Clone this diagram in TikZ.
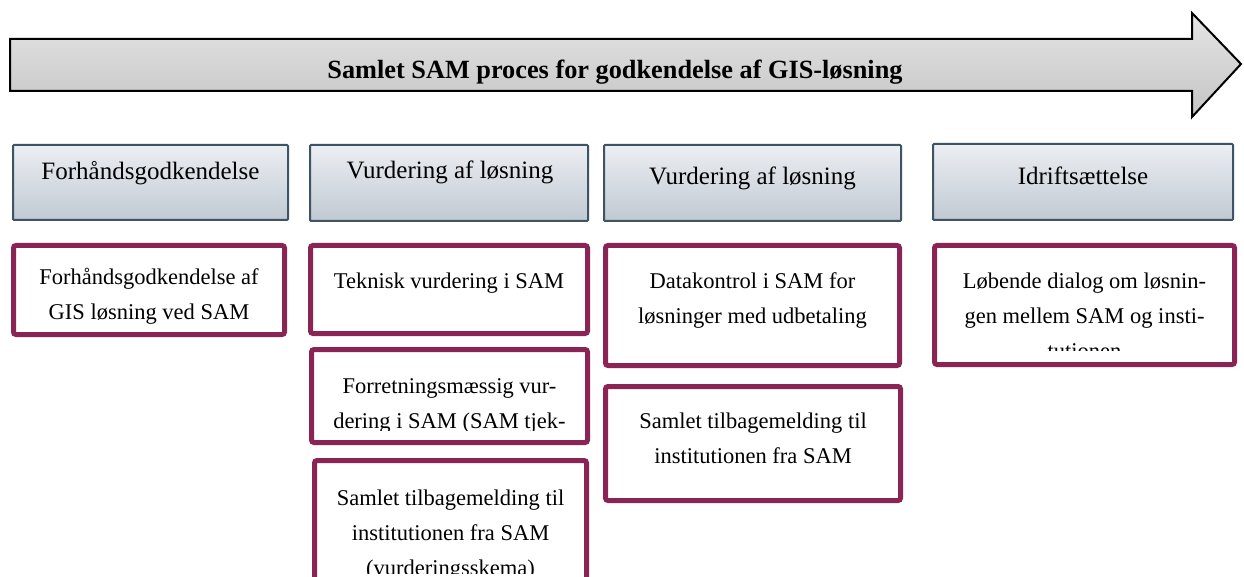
\documentclass[tikz,border=0pt]{standalone}
\usepackage{fontspec}
\setmainfont{Liberation Serif}
\definecolor{boxpurple}{RGB}{137,36,84}
\definecolor{hdrborder}{RGB}{62,84,100}
\definecolor{hdrtop}{RGB}{236,239,243}
\definecolor{hdrbot}{RGB}{192,201,210}
\definecolor{arrtop}{RGB}{229,229,229}
\definecolor{arrbot}{RGB}{196,196,196}
\begin{document}
\begin{tikzpicture}[x=1pt,y=-1pt,
  arrowshape/.style={draw=black, line width=2pt, top color=arrtop, bottom color=arrbot, line join=miter},
  hdr/.style={draw=hdrborder, line width=2pt, top color=hdrtop, bottom color=hdrbot, rounded corners=1pt, inner sep=0pt, outer sep=0pt},
  pbox/.style={draw=boxpurple, line width=5pt, fill=white, rounded corners=2.5pt, inner sep=0pt, outer sep=0pt},
  hdrtxt/.style={anchor=base, inner sep=0pt, font=\fontsize{25}{30}\selectfont},
  txt/.style={anchor=base, inner sep=0pt, font=\fontsize{22.5}{35}\selectfont},
  ttl/.style={anchor=base, inner sep=0pt, font=\fontsize{26.3}{30}\selectfont\bfseries}]
\useasboundingbox (0,0) rectangle (1244,577);
\clip (0,0) rectangle (1244,577);
\fill[white] (0,0) rectangle (1244,577);

% big arrow
\draw[arrowshape] (10,39) -- (1192,39) -- (1192,13) -- (1241,64) -- (1192,117) -- (1192,91) -- (10,91) -- cycle;
\node[ttl] (title) at (615,79) {Samlet SAM proces for godkendelse af GIS-løsning};

% header boxes
\node[hdr, minimum width=275pt, minimum height=75pt] (h1) at (150.5,182.5) {};
\node[hdr, minimum width=278pt, minimum height=76pt] (h2) at (449,183) {};
\node[hdr, minimum width=297pt, minimum height=76pt] (h3) at (752.5,183) {};
\node[hdr, minimum width=300pt, minimum height=76pt] (h4) at (1083,182) {};
\node[hdrtxt] (h1t) at (150.5,180) {Forhåndsgodkendelse};
\node[hdrtxt] (h2t) at (450,179) {Vurdering af løsning};
\node[hdrtxt] (h3t) at (752.5,185) {Vurdering af løsning};
\node[hdrtxt] (h4t) at (1083,185) {Idriftsættelse};

% content boxes
\node[pbox, minimum width=271pt, minimum height=89pt] (b1) at (149,290) {};
\node[pbox, minimum width=277pt, minimum height=88pt] (b2) at (449,289.5) {};
\node[pbox, minimum width=276pt, minimum height=93pt] (b3) at (449.5,396) {};
\node[pbox, minimum width=272pt, minimum height=139pt] (b4) at (450.5,530) {};
\node[pbox, minimum width=294pt, minimum height=120pt] (b5) at (752.5,305.5) {};
\node[pbox, minimum width=295pt, minimum height=114pt] (b6) at (753,443.5) {};
\node[pbox, minimum width=300pt, minimum height=119pt] (b7) at (1084.5,305) {};

\node[txt] (b1t) at (149,284) {\parbox[t]{270pt}{\centering Forhåndsgodkendelse af\\GIS løsning ved SAM}};
\node[txt] (b2t) at (449,288) {Teknisk vurdering i SAM};
\begin{scope}
  \clip (312,350) rectangle (587,430);
  \node[txt] (b3t) at (449.5,393) {\parbox[t]{270pt}{\centering Forretningsmæssig vur-\\dering i SAM (SAM tjek-\\liste)}};
\end{scope}
\begin{scope}
  \clip (315,461) rectangle (586,573);
  \node[txt] (b4t) at (450.5,505) {\parbox[t]{270pt}{\centering Samlet tilbagemelding til\\institutionen fra SAM\\(vurderingsskema)}};
\end{scope}
\node[txt] (b5t) at (752.5,288) {\parbox[t]{290pt}{\centering Datakontrol i SAM for\\løsninger med udbetaling}};
\node[txt] (b6t) at (753,428) {\parbox[t]{290pt}{\centering Samlet tilbagemelding til\\institutionen fra SAM}};
\begin{scope}
  \clip (935,246) rectangle (1234,350);
  \node[txt] (b7t) at (1084.5,288) {\parbox[t]{296pt}{\centering Løbende dialog om løsnin-\\gen mellem SAM og insti-\\tutionen}};
\end{scope}
\end{tikzpicture}
\end{document}
